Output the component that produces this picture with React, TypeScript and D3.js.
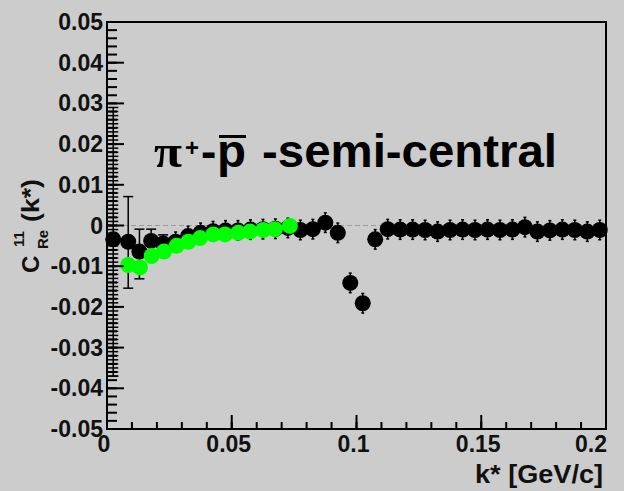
import React from "react";
import * as d3 from "d3";

// ---- data ----
const blackK = [
  0.0025, 0.0085, 0.013, 0.0177, 0.0225, 0.0275, 0.0325, 0.0375, 0.0425, 0.0475,
  0.0525, 0.0575, 0.0625, 0.0675, 0.0725, 0.0775, 0.0825, 0.0875, 0.0925, 0.0975,
  0.1025, 0.1075, 0.1125, 0.1175, 0.1225, 0.1275, 0.1325, 0.1375, 0.1425, 0.1475,
  0.1525, 0.1575, 0.1625, 0.1675, 0.1725, 0.1775, 0.1825, 0.1875, 0.1925, 0.1975,
];
const blackV = [
  -0.0034, -0.004, -0.0064, -0.0038, -0.0044, -0.004, -0.0026, -0.0018, -0.0014, -0.0012,
  -0.0012, -0.001, -0.0009, -0.0008, -0.0006, -0.0011, -0.0009, 0.0007, -0.0018, -0.0141,
  -0.0191, -0.0034, -0.0009, -0.001, -0.001, -0.0011, -0.0015, -0.0011, -0.001, -0.0011,
  -0.001, -0.0011, -0.001, -0.0004, -0.0015, -0.0012, -0.001, -0.0011, -0.0015, -0.0011,
];
const blackErrUp = [
  0.0324, 0.0111, 0.0055, 0.0029, 0.0021, 0.0024, 0.0024, 0.0024, 0.0024, 0.0024,
  0.0024, 0.0024, 0.0024, 0.0024, 0.0024, 0.0024, 0.0024, 0.0024, 0.0024, 0.0024,
  0.0024, 0.0024, 0.0024, 0.0024, 0.0024, 0.0024, 0.0024, 0.0024, 0.0024, 0.0024,
  0.0024, 0.0024, 0.0024, 0.0024, 0.0024, 0.0024, 0.0024, 0.0024, 0.0024, 0.0024,
];
const blackErrDown = [
  0.0336, 0.0114, 0.0067, 0.0029, 0.0021, 0.0024, 0.0024, 0.0024, 0.0024, 0.0024,
  0.0024, 0.0024, 0.0024, 0.0024, 0.0024, 0.0024, 0.0024, 0.0024, 0.0024, 0.0024,
  0.0024, 0.0024, 0.0024, 0.0024, 0.0024, 0.0024, 0.0024, 0.0024, 0.0024, 0.0024,
  0.0024, 0.0024, 0.0024, 0.0024, 0.0024, 0.0024, 0.0024, 0.0024, 0.0024, 0.0024,
];
const greenK = [
  0.0085, 0.0132, 0.0179, 0.0228, 0.0279, 0.0326, 0.0373, 0.0426, 0.0473, 0.0526,
  0.0573, 0.0626, 0.0673, 0.0733,
];
const greenV = [
  -0.0097, -0.0103, -0.0075, -0.0064, -0.005, -0.004, -0.0031, -0.0022, -0.0022, -0.0018,
  -0.0015, -0.0011, -0.0009, -0.0001,
];
const yTicks = [0.05, 0.04, 0.03, 0.02, 0.01, 0, -0.01, -0.02, -0.03, -0.04, -0.05];
const yTickLabels = ["0.05", "0.04", "0.03", "0.02", "0.01", "0", "-0.01", "-0.02", "-0.03", "-0.04", "-0.05"];
const xTicks = [0, 0.05, 0.1, 0.15, 0.2];
const xTickLabels = ["0", "0.05", "0.1", "0.15", "0.2"];

const W = 624;
const H = 491;
const L = 107, R = 606, T = 22, B = 429;
const FONT = "'Liberation Sans', Arial, Helvetica, sans-serif";
const BG = "#cccccc";

export default function App() {
  const x = d3.scaleLinear().domain([0, 0.2]).range([L, R]);
  const y = d3.scaleLinear().domain([-0.05, 0.05]).range([B, T]);

  const yMinor = d3.range(-0.05, 0.0501, 0.002).map((v) => +v.toFixed(4));
  const xMinor = d3.range(0, 0.2001, 0.01).map((v) => +v.toFixed(4));

  const firstLo = blackV[0] - blackErrDown[0];
  const firstHi = blackV[0] + blackErrUp[0];
  const denseCaps = d3.range(Math.ceil(firstLo * 1000), Math.floor(firstHi * 1000) + 1).map((d) => d / 1000);

  const r = 8;

  return (
    <svg
      width={W}
      height={H}
      style={{ position: "absolute", left: 0, top: 0, background: BG }}
      fontFamily={FONT}
    >
      <rect x={0} y={0} width={W} height={H} fill={BG} />
      <line x1={L} x2={R} y1={y(0)} y2={y(0)} stroke="#9a9a9a" strokeWidth={1} strokeDasharray="5,3" />

      <g stroke="#000" strokeWidth={1.5}>
        {blackK.map((k, i) => {
          const cx = x(k);
          const top = y(blackV[i] + blackErrUp[i]);
          const bot = y(blackV[i] - blackErrDown[i]);
          const cw = i < 5 ? 5 : 1.5;
          return (
            <g key={i}>
              <line x1={cx} x2={cx} y1={top} y2={bot} />
              <line x1={cx - cw} x2={cx + cw} y1={top} y2={top} />
              <line x1={cx - cw} x2={cx + cw} y1={bot} y2={bot} />
            </g>
          );
        })}
        {denseCaps.map((v, i) => (
          <line key={"dc" + i} x1={x(blackK[0]) - 6} x2={x(blackK[0]) + 5} y1={y(v)} y2={y(v)} />
        ))}
      </g>
      <g fill="#000">
        {blackK.map((k, i) => (
          <circle key={i} cx={x(k)} cy={y(blackV[i])} r={r} />
        ))}
      </g>
      <g fill="#00ff00">
        {greenK.map((k, i) => (
          <circle key={i} cx={x(k)} cy={y(greenV[i])} r={r} />
        ))}
      </g>

      <rect x={L} y={T} width={R - L} height={B - T} fill="none" stroke="#000" strokeWidth={2} />

      <g stroke="#000" strokeWidth={2}>
        {yMinor.map((v, i) => (
          <line key={"ym" + i} x1={L} x2={L + 10} y1={y(v)} y2={y(v)} />
        ))}
        {yTicks.map((v, i) => (
          <line key={"yM" + i} x1={L} x2={L + 17} y1={y(v)} y2={y(v)} />
        ))}
        {xMinor.map((v, i) => (
          <line key={"xm" + i} x1={x(v)} x2={x(v)} y1={B} y2={B - 7} />
        ))}
        {xTicks.map((v, i) => (
          <line key={"xM" + i} x1={x(v)} x2={x(v)} y1={B} y2={B - 14} />
        ))}
      </g>

      <g fontSize={23} fontWeight="bold" fill="#111" textAnchor="end">
        {yTicks.map((v, i) => (
          <text key={i} x={103} y={y(v) + 8}>
            {yTickLabels[i]}
          </text>
        ))}
      </g>
      <g fontSize={23} fontWeight="bold" fill="#111" textAnchor="middle">
        {xTicks.map((v, i) => (
          <text key={i} x={i === xTicks.length - 1 ? x(v) - 15 : x(v) - 3} y={452}>
            {xTickLabels[i]}
          </text>
        ))}
      </g>

      <text x={603} y={483} fontSize={25} fontWeight="bold" fill="#111" textAnchor="end" textLength={128} lengthAdjust="spacingAndGlyphs">
        k* [GeV/c]
      </text>

      <g transform="translate(39,0) rotate(-90)" fontWeight="bold" fill="#111">
        <text x={-273} y={0} fontSize={24}>C</text>
        <text x={-247} y={-15} fontSize={15}>11</text>
        <text x={-249} y={9} fontSize={15}>Re</text>
        <text x={-222} y={0} fontSize={24} textLength={43} lengthAdjust="spacingAndGlyphs">(k*)</text>
      </g>

      <g fontWeight="bold" fill="#000">
        <text x={154} y={167} fontSize={46} fontFamily="'Liberation Serif', 'DejaVu Serif', serif" textLength={28} lengthAdjust="spacingAndGlyphs">π</text>
        <text x={185} y={156} fontSize={24}>+</text>
        <text x={201} y={167} fontSize={46}>-</text>
        <text x={217} y={167} fontSize={46} textLength={29} lengthAdjust="spacingAndGlyphs">p</text>
        <line x1={219} x2={246} y1={136.5} y2={136.5} stroke="#000" strokeWidth={3} />
        <text x={262} y={167} fontSize={46} textLength={295} lengthAdjust="spacingAndGlyphs">-semi-central</text>
      </g>
    </svg>
  );
}
